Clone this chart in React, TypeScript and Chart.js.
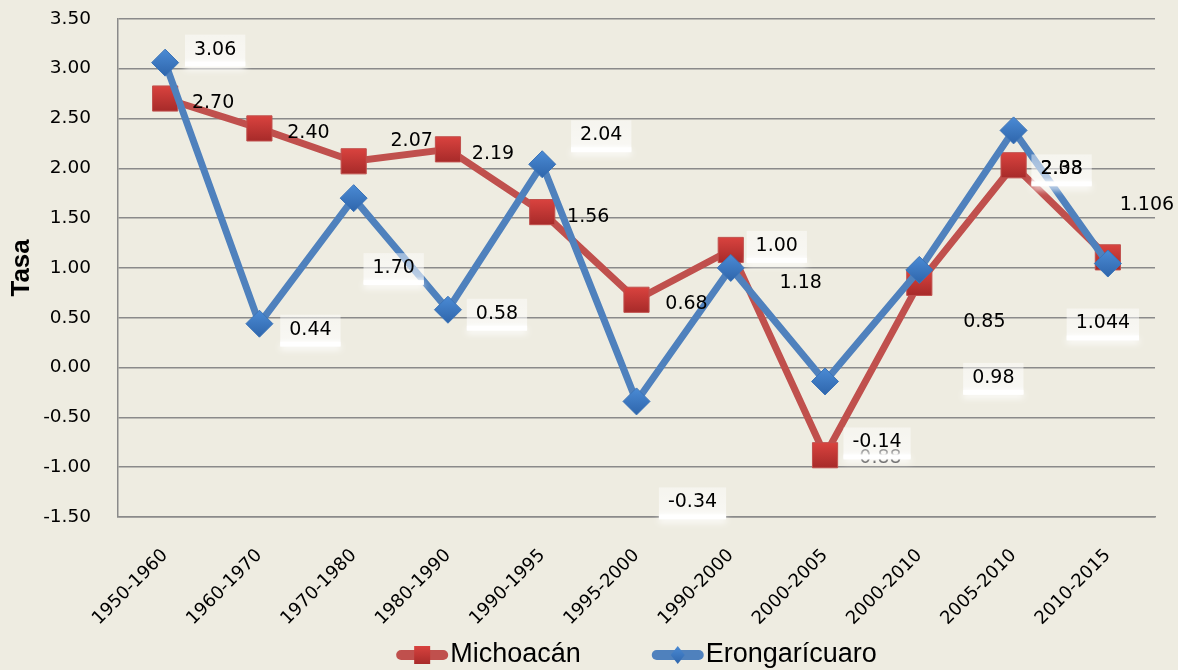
import React, { useEffect, useRef } from "react";
import { Chart, registerables } from "chart.js";

Chart.register(...registerables);

// ---------- data ----------
const categories = [
  "1950-1960",
  "1960-1970",
  "1970-1980",
  "1980-1990",
  "1990-1995",
  "1995-2000",
  "1990-2000",
  "2000-2005",
  "2000-2010",
  "2005-2010",
  "2010-2015",
];

const michoacan = [2.7, 2.4, 2.07, 2.19, 1.56, 0.68, 1.18, -0.88, 0.85, 2.03, 1.106];
const erongaricuaro = [3.06, 0.44, 1.7, 0.58, 2.04, -0.34, 1.0, -0.14, 0.98, 2.38, 1.044];

const michoacanLabels = ["2.70", "2.40", "2.07", "2.19", "1.56", "0.68", "1.18", "-0.88", "0.85", "2.03", "1.106"];
const erongaricuaroLabels = ["3.06", "0.44", "1.70", "0.58", "2.04", "-0.34", "1.00", "-0.14", "0.98", "2.38", "1.044"];

const seriesNames = ["Michoacán", "Erongarícuaro"];

const yMin = -1.5;
const yMax = 3.5;
const yStep = 0.5;

// label placement (pixel offsets from each point, as in the original)
const michoacanLabelOffsets = [
  [48, 5], [49, 5], [58, -20], [45, 5], [46, 5], [50, 4], [70, 33], [52, 3], [65, 39], [48, 4], [39, -52],
];
// which Michoacán labels sit underneath an Erongarícuaro label box
const michoacanLabelBehind = [false, false, false, false, false, false, false, true, false, false, false];
const erongaricuaroLabelOffsets = [
  [50, -13], [51, 6], [40, 70], [49, 4], [59, -29], [56, 101], [46, -22], [52, 61], [74, 108], [48, 39], [-5, 60],
];

// ---------- styles ----------
const BG = "#EEECE1";
const GRID = "#8A8A8A";
const RED_LINE = "#C0504D";
const BLUE_LINE = "#4F81BD";
const TICK_FONT = "'DejaVu Sans', sans-serif";

function markerFill(top: string, bottom: string, half: number) {
  return (c: any) => {
    const chart = c.chart;
    if (c.type !== "data" || !chart.scales || !chart.scales.y || typeof c.raw !== "number") return bottom;
    const py = chart.scales.y.getPixelForValue(c.raw);
    if (!isFinite(py)) return bottom;
    const g = chart.ctx.createLinearGradient(0, py - half, 0, py + half);
    g.addColorStop(0, top);
    g.addColorStop(1, bottom);
    return g;
  };
}

const bgPlugin = {
  id: "bgFill",
  beforeDraw(chart: any) {
    const { ctx, width, height } = chart;
    ctx.save();
    ctx.fillStyle = BG;
    ctx.fillRect(0, 0, width, height);
    ctx.restore();
  },
};

const labelPlugin = {
  id: "pointLabels",
  afterDatasetsDraw(chart: any) {
    const ctx = chart.ctx;
    ctx.save();
    ctx.font = `19px ${TICK_FONT}`;
    ctx.textAlign = "center";
    ctx.textBaseline = "middle";
    const m0 = chart.getDatasetMeta(0);
    const m1 = chart.getDatasetMeta(1);
    const drawRed = (behind: boolean) => {
      m0.data.forEach((pt: any, i: number) => {
        if (michoacanLabelBehind[i] !== behind) return;
        const [dx, dy] = michoacanLabelOffsets[i];
        ctx.fillStyle = "#000";
        ctx.fillText(michoacanLabels[i], pt.x + dx, pt.y + dy);
      });
    };
    drawRed(true);
    // Erongarícuaro labels (soft white boxes)
    m1.data.forEach((pt: any, i: number) => {
      const [dx, dy] = erongaricuaroLabelOffsets[i];
      const cx = pt.x + dx;
      const cy = pt.y + dy;
      const w = ctx.measureText(erongaricuaroLabels[i]).width + 18;
      const top = cy - 15;
      const h = 31;
      ctx.save();
      const g = ctx.createLinearGradient(0, top, 0, top + h);
      g.addColorStop(0, "rgba(255,255,255,0.45)");
      g.addColorStop(0.75, "rgba(255,255,255,0.6)");
      g.addColorStop(1, "rgba(255,255,255,0.95)");
      ctx.fillStyle = g;
      ctx.fillRect(cx - w / 2, top, w, h);
      ctx.shadowColor = "rgba(255,255,255,1)";
      ctx.shadowBlur = 6;
      ctx.shadowOffsetY = 3;
      ctx.fillStyle = "rgba(255,255,255,0.95)";
      ctx.fillRect(cx - w / 2, top + h - 4, w, 5);
      ctx.restore();
      ctx.fillStyle = "#000";
      ctx.fillText(erongaricuaroLabels[i], cx, cy);
    });
    drawRed(false);
    ctx.restore();
  },
};

const legendPlugin = {
  id: "customLegend",
  afterDraw(chart: any) {
    const ctx = chart.ctx;
    const area = chart.chartArea;
    const y = 655;
    const lineLen = 52;
    const gap = 71;
    ctx.save();
    ctx.font = "27px 'Liberation Sans Narrow', 'Liberation Sans', sans-serif";
    const w0 = ctx.measureText(seriesNames[0]).width;
    const w1 = ctx.measureText(seriesNames[1]).width;
    const total = lineLen + 2 + w0 + gap + lineLen + 2 + w1;
    let x = (area.left + area.right) / 2 - total / 2;
    const colors = [RED_LINE, BLUE_LINE];
    for (let k = 0; k < 2; k++) {
      ctx.strokeStyle = colors[k];
      ctx.lineWidth = 10;
      ctx.lineCap = "round";
      ctx.beginPath();
      ctx.moveTo(x + 5, y);
      ctx.lineTo(x + lineLen - 5, y);
      ctx.stroke();
      const mx = x + lineLen / 2;
      if (k === 0) {
        const g = ctx.createLinearGradient(0, y - 9, 0, y + 9);
        g.addColorStop(0, "#D8423E");
        g.addColorStop(1, "#A82B2A");
        ctx.fillStyle = g;
        ctx.fillRect(mx - 8, y - 9, 16, 18);
      } else {
        const g = ctx.createLinearGradient(0, y - 9, 0, y + 9);
        g.addColorStop(0, "#4A8AD4");
        g.addColorStop(1, "#2F66AC");
        ctx.fillStyle = g;
        ctx.beginPath();
        ctx.moveTo(mx, y - 9);
        ctx.lineTo(mx + 7, y);
        ctx.lineTo(mx, y + 9);
        ctx.lineTo(mx - 7, y);
        ctx.closePath();
        ctx.fill();
      }
      ctx.fillStyle = "#000";
      ctx.textAlign = "left";
      ctx.textBaseline = "middle";
      const tx = x + lineLen + 2;
      ctx.fillText(seriesNames[k], tx, y);
      x = tx + (k === 0 ? w0 : w1) + gap;
    }
    ctx.restore();
  },
};

export default function App() {
  const canvasRef = useRef<HTMLCanvasElement | null>(null);

  useEffect(() => {
    const canvas = canvasRef.current;
    if (!canvas) return;
    const chart = new Chart(canvas, {
      type: "line",
      data: {
        labels: categories,
        datasets: [
          {
            label: seriesNames[0],
            data: michoacan,
            borderColor: RED_LINE,
            borderWidth: 7,
            backgroundColor: RED_LINE,
            pointStyle: "rect",
            pointRadius: 17.8,
            pointHoverRadius: 17.8,
            pointBackgroundColor: markerFill("#D8423E", "#A82B2A", 12),
            pointBorderColor: "#C0504D",
            pointBorderWidth: 1,
            tension: 0,
            order: 1,
          } as any,
          {
            label: seriesNames[1],
            data: erongaricuaro,
            borderColor: BLUE_LINE,
            borderWidth: 7,
            backgroundColor: BLUE_LINE,
            pointStyle: "rectRot",
            pointRadius: 13.5,
            pointHoverRadius: 13.5,
            pointBackgroundColor: markerFill("#4A8AD4", "#2F66AC", 13),
            pointBorderColor: "#3C74B8",
            pointBorderWidth: 1,
            tension: 0,
            order: 0,
          } as any,
        ],
      },
      options: {
        responsive: false,
        animation: false,
        devicePixelRatio: 1,
        layout: { padding: { top: 15, right: 23, bottom: 33, left: 0 } },
        plugins: {
          legend: { display: false },
          tooltip: { enabled: false },
        },
        scales: {
          x: {
            offset: true,
            grid: { display: false, drawTicks: false },
            border: { display: true, color: GRID, width: 1.5 },
            ticks: {
              autoSkip: false,
              minRotation: 45,
              maxRotation: 45,
              padding: 28,
              color: "#000",
              font: { family: TICK_FONT, size: 18 },
            },
            afterFit: (scale: any) => {
              scale.height = 120;
              scale.paddingLeft = 0;
              scale.paddingRight = 0;
            },
          },
          y: {
            min: yMin,
            max: yMax,
            grid: { color: GRID, lineWidth: 1.5, drawTicks: false },
            border: { display: true, color: GRID, width: 1.5 },
            ticks: {
              stepSize: yStep,
              padding: 27,
              color: "#000",
              font: { family: TICK_FONT, size: 18.5 },
              callback: (v: any) => Number(v).toFixed(2),
            },
            title: {
              display: true,
              text: "Tasa",
              color: "#000",
              font: { family: "'Liberation Sans', Arial, sans-serif", size: 26, weight: "bold" },
              padding: { top: 6, bottom: 0 },
            },
            afterFit: (scale: any) => {
              scale.width = 118;
              scale.paddingTop = 0;
              scale.paddingBottom = 0;
            },
          },
        },
      },
      plugins: [bgPlugin, labelPlugin, legendPlugin],
    });
    return () => chart.destroy();
  }, []);

  return (
    <div
      style={{
        position: "fixed",
        left: 0,
        top: 0,
        width: 1178,
        height: 670,
        background: BG,
      }}
    >
      <canvas ref={canvasRef} width={1178} height={670} style={{ display: "block" }} />
    </div>
  );
}
